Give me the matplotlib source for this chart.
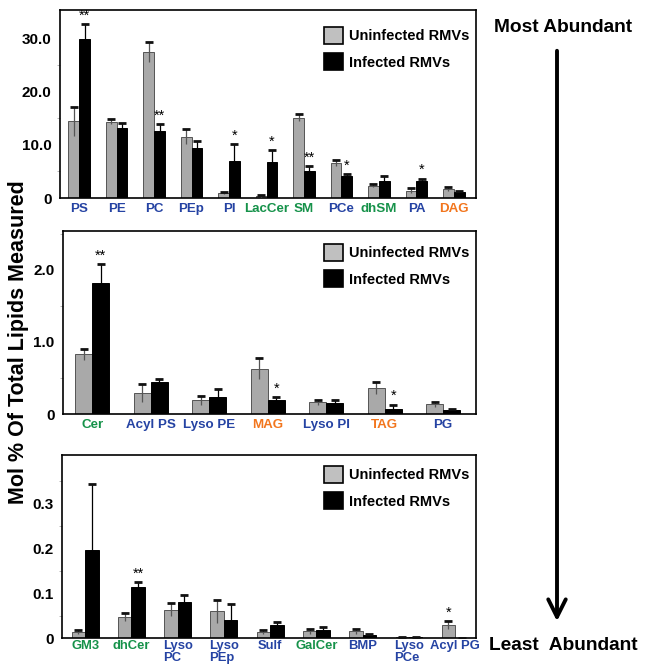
import numpy as np
import matplotlib as mpl
mpl.use("Agg")
import matplotlib.pyplot as plt
from matplotlib.patches import FancyArrowPatch, Patch
from matplotlib.ticker import FixedLocator

plt.rcParams['font.family'] = ['Liberation Sans', 'DejaVu Sans']
plt.rcParams['font.weight'] = 'bold'

# label colours
blue = '#2543a3'
green = '#16924a'
orange = '#f2761e'
grey = '#a9a9a9'

#data: panel 1 (most abundant)
cats1 = ['PS', 'PE', 'PC', 'PEp', 'PI', 'LacCer', 'SM', 'PCe', 'dhSM', 'PA', 'DAG']
labcol1 = [blue, blue, blue, blue, blue, green, green, blue, green, blue, orange]
unin1 = [14.4, 14.3, 27.4, 11.5, 1.0, 0.4, 15.1, 6.5, 2.3, 1.4, 1.7]
unin1_err = [2.7, 0.45, 1.85, 1.4, 0.2, 0.15, 0.7, 0.55, 0.25, 0.5, 0.4]
inf1 = [29.8, 13.05, 12.55, 9.35, 7.0, 6.85, 5.0, 4.15, 3.2, 3.2, 1.05]
inf1_err = [2.8, 0.95, 1.35, 1.35, 3.2, 2.15, 1.0, 0.35, 1.0, 0.45, 0.2]
stars1_unin = [''] * 11
stars1_inf = ['**', '', '**', '', '*', '*', '**', '*', '', '*', '']
yticks1 = [0, 10, 20, 30]
yticklabels1 = ['0', '10.0', '20.0', '30.0']

#data: panel 2
cats2 = ['Cer', 'Acyl PS', 'Lyso PE', 'MAG', 'Lyso PI', 'TAG', 'PG']
labcol2 = [green, blue, blue, orange, blue, orange, blue]
unin2 = [0.83, 0.285, 0.19, 0.63, 0.16, 0.36, 0.135]
unin2_err = [0.075, 0.125, 0.06, 0.145, 0.03, 0.08, 0.035]
inf2 = [1.82, 0.445, 0.23, 0.195, 0.148, 0.075, 0.056]
inf2_err = [0.26, 0.035, 0.12, 0.04, 0.045, 0.055, 0.014]
stars2_unin = [''] * 7
stars2_inf = ['**', '', '', '*', '', '*', '']
yticks2 = [0, 1, 2]
yticklabels2 = ['0', '1.0', '2.0']

#data: panel 3 (least abundant)
cats3 = ['GM3', 'dhCer', 'Lyso\nPC', 'Lyso\nPEp', 'Sulf', 'GalCer', 'BMP', 'Lyso\nPCe', 'Acyl PG']
labcol3 = [green, green, blue, blue, blue, green, blue, blue, blue]
unin3 = [0.014, 0.047, 0.063, 0.059, 0.013, 0.015, 0.015, 0.003, 0.029]
unin3_err = [0.004, 0.009, 0.014, 0.025, 0.005, 0.005, 0.005, 0.0, 0.008]
inf3 = [0.195, 0.114, 0.079, 0.041, 0.028, 0.017, 0.007, 0.002, 0.001]
inf3_err = [0.147, 0.011, 0.017, 0.034, 0.007, 0.008, 0.001, 0.0, 0.0]
stars3_unin = [''] * 8 + ['*']
stars3_inf = ['', '**', '', '', '', '', '', '', '']
yticks3 = [0, 0.1, 0.2, 0.3]
yticklabels3 = ['0', '0.1', '0.2', '0.3']

W, H = 646, 669
fig = plt.figure(figsize=(W / 100, H / 100), dpi=100)

def px_axes(l, r, t, b):
    return fig.add_axes([l / W, 1 - b / H, (r - l) / W, (b - t) / H])

bw = 0.29

def panel(ax, cats, labcol, unin, unin_err, inf, inf_err, st_u, st_i,
          yticks, yticklabels, ylim, xlim, minors, leg_top, xpad=3.5, xfs=9.6):
    x = np.arange(len(cats))
    xu = x - bw / 2
    xi = x + bw / 2
    ax.bar(xu, unin, bw, color=grey, edgecolor='#555555', linewidth=0.7, zorder=2)
    ax.bar(xi, inf, bw, color='black', edgecolor='black', linewidth=0.7, zorder=2)
    for xs, v, e, lc in ((xu, unin, unin_err, '#555555'), (xi, inf, inf_err, 'black')):
        v = np.array(v); e = np.array(e)
        ax.vlines(xs, v - e, v + e, color=lc, linewidth=0.9, zorder=3)
        ax.plot(xs, v + e, ls='none', marker='_', ms=6, mew=2, color='#111111', zorder=4)
    for xs, v, e, st in ((xu, unin, unin_err, st_u), (xi, inf, inf_err, st_i)):
        for xx, vv, ee, s in zip(xs, v, e, st):
            if s:
                ax.annotate(s, (xx, vv + ee), xytext=(0, 1), textcoords='offset points',
                            ha='center', va='bottom', fontsize=10.5, fontweight='normal')
    ax.set_xlim(*xlim)
    ax.set_ylim(*ylim)
    ax.set_xticks(x)
    ax.set_xticklabels(cats, fontsize=xfs, ma='left', linespacing=0.95)
    for lab, c in zip(ax.get_xticklabels(), labcol):
        lab.set_color(c)
    ax.set_yticks(yticks)
    ax.set_yticklabels(yticklabels, fontsize=11)
    ax.yaxis.set_minor_locator(FixedLocator(minors))
    ax.tick_params(axis='both', which='major', length=0)
    ax.tick_params(axis='x', pad=xpad)
    ax.tick_params(axis='y', pad=6)
    ax.tick_params(axis='y', which='minor', direction='out', length=2.5,
                   width=0.6, color='#aaaaaa')
    for sp in ax.spines.values():
        sp.set_linewidth(1.2)
    handles = [Patch(facecolor='#c0c0c0', edgecolor='black', linewidth=1.2),
               Patch(facecolor='black', edgecolor='black', linewidth=1.2)]
    ax.legend(handles, ['Uninfected RMVs', 'Infected RMVs'], loc='upper left',
              bbox_to_anchor=(324 / W, 1 - leg_top / H), bbox_transform=fig.transFigure,
              frameon=False, fontsize=10.5, borderpad=0, borderaxespad=0,
              handlelength=1.3, handleheight=1.45, handletextpad=0.4, labelspacing=0.6)

ax1 = px_axes(60, 476, 10, 198)
panel(ax1, cats1, labcol1, unin1, unin1_err, inf1, inf1_err, stars1_unin, stars1_inf,
      yticks1, yticklabels1, (0, 35.3), (-0.51, 10.59), [5, 15, 25], 27)

ax2 = px_axes(63, 476, 231, 414)
panel(ax2, cats2, labcol2, unin2, unin2_err, inf2, inf2_err, stars2_unin, stars2_inf,
      yticks2, yticklabels2, (0, 2.54), (-0.5, 6.56), [0.5, 1.5, 2.5], 244)

ax3 = px_axes(62, 476, 455, 638)
panel(ax3, cats3, labcol3, unin3, unin3_err, inf3, inf3_err, stars3_unin, stars3_inf,
      yticks3, yticklabels3, (0, 0.407), (-0.5, 8.45), [0.05, 0.15, 0.25, 0.35], 466,
      xpad=1.5, xfs=9.4)

fig.text(19 / W, 1 - 342 / H, 'Mol % Of Total Lipids Measured', rotation=90,
         ha='center', va='center', fontsize=15.5)

#abundance arrow
fig.text(563 / W, 1 - 27 / H, 'Most Abundant', ha='center', va='center', fontsize=13.8)
fig.text(563 / W, 1 - 645 / H, 'Least  Abundant', ha='center', va='center', fontsize=13.8)
arrow = FancyArrowPatch((557 / W, 1 - 48 / H), (557 / W, 1 - 624 / H),
                        transform=fig.transFigure, arrowstyle='->,head_width=0.45,head_length=0.9',
                        mutation_scale=14, linewidth=2.8, color='black')
fig.add_artist(arrow)

fig.savefig('out.png', dpi=100)
